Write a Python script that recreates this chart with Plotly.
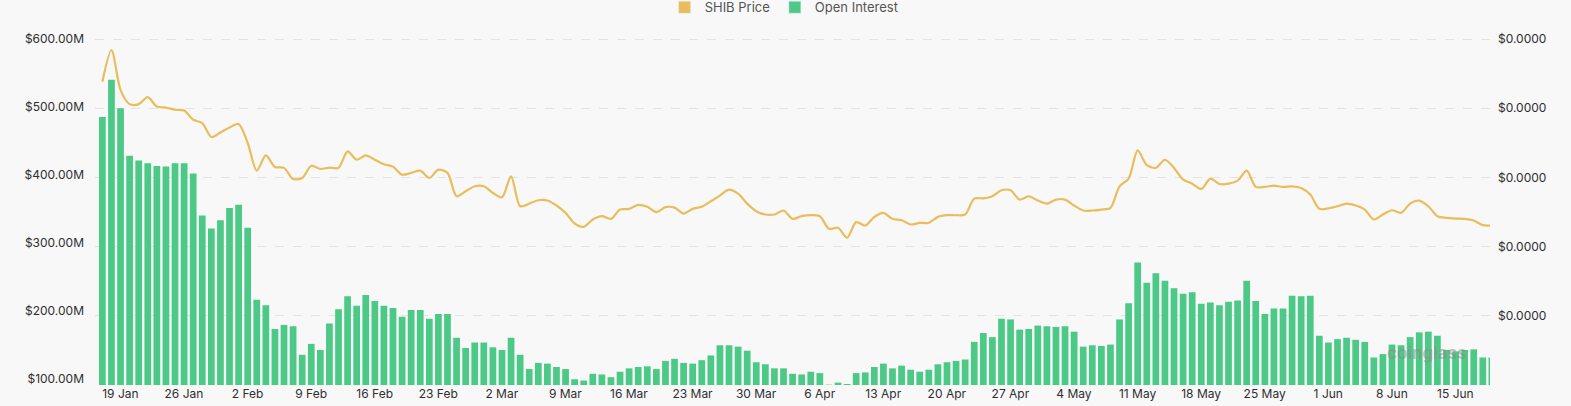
import pandas as pd
import plotly.graph_objects as go

# ---- data ----
start_date = "2025-01-19"
n_days = 154
dates = pd.date_range(start_date, periods=n_days, freq="D")

# Open interest, millions USD
open_interest_m = [
    485, 540, 498, 428, 421, 417, 413, 412, 417, 417,
    402, 340, 321, 333, 351, 356, 322, 216, 208, 173,
    179, 177, 135, 151, 142, 181, 202, 221, 207, 223,
    214, 207, 204, 191, 201, 201, 188, 195, 195, 160,
    145, 153, 153, 146, 142, 160, 135, 114, 123, 122,
    117, 114, 99, 97, 107, 106, 102, 110, 115, 117,
    118, 114, 126, 129, 123, 122, 127, 134, 149, 149,
    147, 141, 124, 121, 115, 115, 107, 106, 110, 108,
    91, 94, 92, 108, 109, 117, 122, 115, 119, 113,
    110, 113, 121, 124, 126, 128, 154, 167, 161, 188,
    187, 172, 173, 178, 177, 176, 177, 169, 147, 149,
    148, 150, 187, 211, 271, 241, 255, 244, 233, 225,
    227, 210, 212, 208, 213, 215, 244, 214, 195, 203,
    203, 222, 221, 222, 163, 153, 158, 160, 157, 154,
    131, 136, 150, 149, 161, 168, 169, 163, 142, 140,
    142, 143, 131, 131,
]

# SHIB price, USD
shib_price = [
    21.92e-6, 24.21e-6, 21.33e-6, 20.30e-6, 20.30e-6, 20.80e-6, 20.12e-6, 20.05e-6, 19.89e-6, 19.84e-6,
    19.17e-6, 18.93e-6, 17.92e-6, 18.25e-6, 18.61e-6, 18.86e-6, 17.49e-6, 15.49e-6, 16.59e-6, 15.76e-6,
    15.69e-6, 14.89e-6, 14.96e-6, 15.85e-6, 15.61e-6, 15.71e-6, 15.69e-6, 16.88e-6, 16.28e-6, 16.59e-6,
    16.28e-6, 15.96e-6, 15.78e-6, 15.20e-6, 15.33e-6, 15.49e-6, 14.96e-6, 15.56e-6, 15.33e-6, 13.64e-6,
    14.00e-6, 14.36e-6, 14.36e-6, 13.88e-6, 13.57e-6, 15.08e-6, 12.92e-6, 13.11e-6, 13.35e-6, 13.33e-6,
    12.97e-6, 12.44e-6, 11.67e-6, 11.43e-6, 11.96e-6, 12.20e-6, 12.01e-6, 12.68e-6, 12.73e-6, 13.02e-6,
    12.88e-6, 12.49e-6, 12.85e-6, 12.82e-6, 12.39e-6, 12.73e-6, 12.88e-6, 13.28e-6, 13.69e-6, 14.12e-6,
    13.83e-6, 13.11e-6, 12.56e-6, 12.32e-6, 12.32e-6, 12.61e-6, 12.01e-6, 12.20e-6, 12.27e-6, 12.20e-6,
    11.29e-6, 11.36e-6, 10.64e-6, 11.77e-6, 11.53e-6, 12.15e-6, 12.44e-6, 12.01e-6, 11.91e-6, 11.60e-6,
    11.72e-6, 11.72e-6, 12.15e-6, 12.27e-6, 12.27e-6, 12.32e-6, 13.47e-6, 13.49e-6, 13.64e-6, 14.07e-6,
    14.07e-6, 13.40e-6, 13.64e-6, 13.33e-6, 13.11e-6, 13.40e-6, 13.40e-6, 12.97e-6, 12.61e-6, 12.61e-6,
    12.68e-6, 12.80e-6, 14.36e-6, 14.91e-6, 16.95e-6, 15.89e-6, 15.69e-6, 16.28e-6, 15.69e-6, 14.84e-6,
    14.55e-6, 14.17e-6, 14.91e-6, 14.53e-6, 14.55e-6, 14.77e-6, 15.49e-6, 14.32e-6, 14.32e-6, 14.41e-6,
    14.32e-6, 14.36e-6, 14.24e-6, 13.76e-6, 12.73e-6, 12.77e-6, 12.92e-6, 13.11e-6, 12.97e-6, 12.68e-6,
    11.96e-6, 12.32e-6, 12.63e-6, 12.44e-6, 13.11e-6, 13.33e-6, 12.92e-6, 12.20e-6, 12.08e-6, 12.03e-6,
    12.01e-6, 11.89e-6, 11.55e-6, 11.53e-6,
]

left_ticks_m = [100, 200, 300, 400, 500, 600]
left_tick_text = ["$100.00M", "$200.00M", "$300.00M", "$400.00M", "$500.00M", "$600.00M"]
right_ticks = [5e-6, 10e-6, 15e-6, 20e-6, 25e-6]
right_tick_text = ["$0.0000"] * 5
week_ticks = pd.date_range("2025-01-19", "2025-06-15", freq="7D")
week_labels = ["19 Jan", "26 Jan", "2 Feb", "9 Feb", "16 Feb", "23 Feb", "2 Mar", "9 Mar",
               "16 Mar", "23 Mar", "30 Mar", "6 Apr", "13 Apr", "20 Apr", "27 Apr", "4 May",
               "11 May", "18 May", "25 May", "1 Jun", "8 Jun", "15 Jun"]

# ---- style ----
GREEN = "#4cc986"
GOLD = "#e9bd5b"
BG = "#f8f8f8"
FONT = "Inter"
TXT = "#2e2e2e"

fig = go.Figure()

fig.add_trace(go.Bar(
    x=dates, y=open_interest_m, name="Open Interest",
    marker=dict(color=GREEN, line=dict(width=0)),
    yaxis="y", showlegend=False, legendgroup="oi",
))
fig.add_trace(go.Scatter(
    x=dates, y=shib_price, name="SHIB Price", mode="lines",
    line=dict(color=GOLD, width=2.2, shape="spline", smoothing=0.8),
    yaxis="y2", showlegend=False, legendgroup="price",
))
# legend entries (square swatches)
fig.add_trace(go.Bar(x=[None], y=[None], name="SHIB Price", marker_color=GOLD,
                     legendgroup="price", showlegend=True, yaxis="y2"))
fig.add_trace(go.Bar(x=[None], y=[None], name="Open Interest", marker_color=GREEN,
                     legendgroup="oi", showlegend=True))

fig.update_layout(
    width=1571, height=406,
    autosize=False,
    margin=dict(l=95, r=81, t=28, b=21, autoexpand=False),
    paper_bgcolor=BG, plot_bgcolor=BG,
    font=dict(family=FONT, size=12, color=TXT),
    bargap=0.26,
    barmode="overlay",
    legend=dict(
        orientation="h", x=0.494, xanchor="center",
        y=1.058, yanchor="middle",
        font=dict(size=13, color="#555555"),
        bgcolor="rgba(0,0,0,0)", traceorder="normal",
    ),
    xaxis=dict(
        type="date",
        range=["2025-01-18 04:30", "2025-06-20 19:00"],
        tickvals=week_ticks, ticktext=week_labels,
        showgrid=False, zeroline=False, showline=False,
        ticks="", ticklabelshift=18, ticklabelstandoff=0,
        tickfont=dict(size=12, color=TXT),
        automargin=False,
    ),
    yaxis=dict(
        range=[90.5, 616],
        tickvals=left_ticks_m, ticktext=left_tick_text,
        showgrid=False, zeroline=False, showline=False,
        ticks="", ticklabelstandoff=10,
        tickfont=dict(size=12, color=TXT),
        automargin=False,
    ),
    yaxis2=dict(
        overlaying="y", side="right",
        range=[0, 25.8e-6],
        tickvals=right_ticks, ticktext=right_tick_text,
        showgrid=True, gridcolor="#e3e3e3", griddash="dash", gridwidth=1,
        zeroline=False, showline=False,
        ticks="", ticklabelstandoff=7,
        tickfont=dict(size=12, color=TXT),
        automargin=False,
    ),
    annotations=[dict(
        text="<b>coinglass</b>", xref="paper", yref="paper",
        x=0.985, y=0.09, xanchor="right", yanchor="middle",
        showarrow=False, font=dict(size=17, color="rgba(140,140,140,0.55)"),
    )],
)

fig.write_html(
    "out.html",
    config={"displayModeBar": False},
    post_script="document.body.style.margin='0';document.body.style.overflow='hidden';"
                "document.body.style.background='" + BG + "';",
)
